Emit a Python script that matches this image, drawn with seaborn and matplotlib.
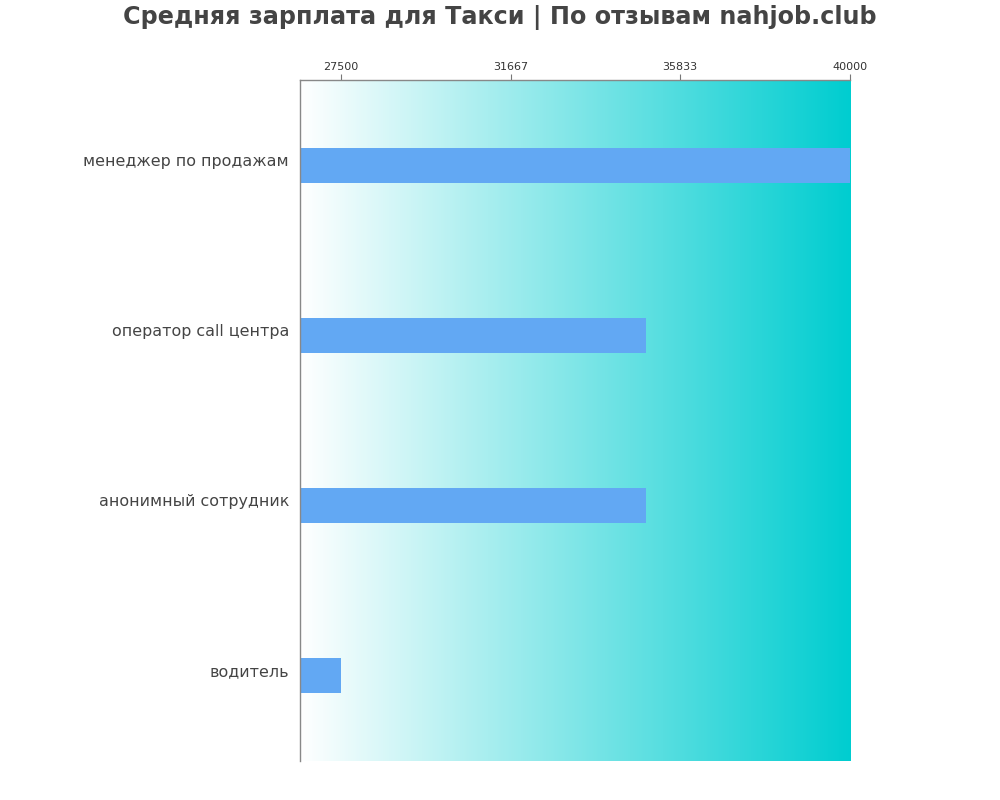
import numpy as np
import pandas as pd
import matplotlib.pyplot as plt
import matplotlib.transforms as mtransforms
from matplotlib.colors import LinearSegmentedColormap
import seaborn as sns

# data
professions = ["менеджер по продажам", "оператор call центра", "анонимный сотрудник", "водитель"]
salaries = [40000, 35000, 35000, 27500]
tick_values = [27500, 31667, 35833, 40000]

df = pd.DataFrame({"profession": professions, "salary": salaries})

sns.set_style("white")
plt.rcParams['font.family'] = ['DejaVu Sans']

fig = plt.figure(figsize=(10, 8), dpi=100)
ax = fig.add_axes([0.3, 0.049, 0.55, 0.851])

x_min, x_max = 26500, 40000

# gradient background, white -> turquoise
cmap = LinearSegmentedColormap.from_list("bg", ["#ffffff", "#00cdd0"])
grad = np.linspace(0, 1, 256).reshape(1, -1)
ax.imshow(grad, cmap=cmap, aspect="auto", extent=[x_min, x_max, 3.5, -0.5], zorder=0)

sns.barplot(data=df, x="salary", y="profession", orient="h", color="#62a8f3",
            width=0.205, saturation=1, linewidth=0, ax=ax, zorder=2)

ax.set_xlim(x_min, x_max)
ax.set_ylim(3.5, -0.5)
ax.set_xlabel("")
ax.set_ylabel("")

ax.xaxis.tick_top()
ax.set_xticks(tick_values)
ax.set_xticklabels([str(v) for v in tick_values], fontsize=8, color="#333333")
ax.tick_params(axis="x", length=4, width=0.8, color="#777777", pad=2)
ax.tick_params(axis="y", length=0, labelsize=11.4, labelcolor="#444444", pad=8)

# nudge category labels a few pixels up, like the original
shift = mtransforms.ScaledTranslation(0, 4 / 100, fig.dpi_scale_trans)
for lbl in ax.get_yticklabels():
    lbl.set_verticalalignment("center")
    lbl.set_transform(lbl.get_transform() + shift)

for side in ["bottom", "right"]:
    ax.spines[side].set_visible(False)
for side in ["top", "left"]:
    ax.spines[side].set_color("#888888")
    ax.spines[side].set_linewidth(1)

fig.text(0.5, 0.994, "Средняя зарплата для Такси | По отзывам nahjob.club",
         ha="center", va="top", fontsize=17.2, fontweight="bold", color="#444444")

fig.savefig("out.png", dpi=100)
